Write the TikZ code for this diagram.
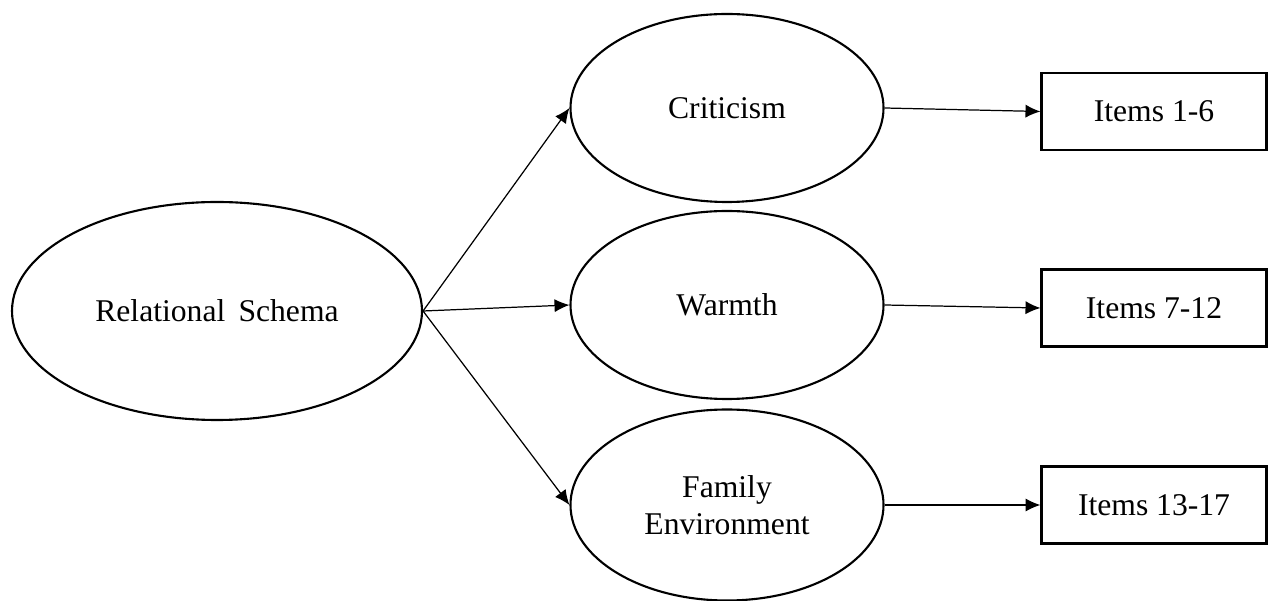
\documentclass[tikz,border=0pt]{standalone}
\usepackage{fontspec}
\setmainfont{Liberation Serif}
\usepackage{tikz}
\usetikzlibrary{arrows,arrows.meta}
\usetikzlibrary{positioning,shapes}
\usetikzlibrary{shapes.geometric}

\begin{document}
\begin{tikzpicture}[font=\fontsize{18}{21}\selectfont,
	latent/.style={draw,ellipse,line width=1.2pt,minimum width=6.26cm,minimum height=3.76cm,inner sep=1pt,align=center},
	itembox/.style={draw,rectangle,line width=1.2pt,minimum width=4.5cm,minimum height=1.54cm,inner sep=1pt}]
	\useasboundingbox (-4.34,-5.8) rectangle (21.04,6.22);
	\fill (0,0) node[latent,minimum width=8.2cm,minimum height=4.36cm] (RS) {Relational\, Schema};
	%
	\fill (0,0) node[right of=RS,xshift=9.2cm,yshift=.12cm,latent] (Wa) {Warmth};
	\fill (0,0) node[above of=Wa,yshift=2.94cm,latent] (Cr) {Criticism};
	\fill (0,0) node[below of=Wa,yshift=-3cm,latent,minimum height=3.82cm] (Fa) {Family\\Environment};
	%
	\fill (0,0) node[right of=Cr,xshift=7.54cm,yshift=-.07cm,itembox] (It1) {Items 1-6};
	\fill (0,0) node[right of=Wa,xshift=7.54cm,yshift=-.06cm,itembox] (It2) {Items 7-12};
	\fill (0,0) node[right of=Fa,xshift=7.54cm,itembox] (It3) {Items 13-17};
	%
	{
	\pgfsetarrows{-{Latex[length=8.5pt,width=7.5pt]}}
	\pgfsetlinewidth{0.7pt}
	\path (RS.east) edge[] (Cr.west);
	\path (RS.east) edge[] (Wa.west);
	\path (RS.east) edge[] (Fa.west);
	%
	\path (Cr.east) edge[] (It1.west);
	\path (Wa.east) edge[] (It2.west);
	\path (Fa.east) edge[] (It3.west);
	}
\end{tikzpicture}
\end{document}
